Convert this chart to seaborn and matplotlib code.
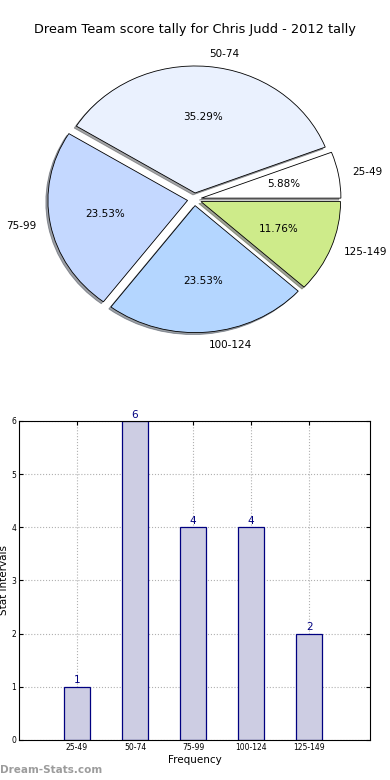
import matplotlib
matplotlib.use("Agg")
import matplotlib.pyplot as plt
import seaborn as sns
import pandas as pd

# score bands and how many games fell in each
bands = ['25-49', '50-74', '75-99', '100-124', '125-149']
counts = [1, 6, 4, 4, 2]
pie_colors = ['#ffffff', '#eaf1fe', '#c4d8ff', '#b4d6ff', '#ceeb8a']
title = 'Dream Team score tally for Chris Judd - 2012 tally'

sns.set_style("white")
plt.rcParams['font.family'] = ['DejaVu Sans']
plt.rcParams.update({'text.color': 'black', 'axes.labelcolor': 'black',
                     'xtick.color': 'black', 'ytick.color': 'black'})

fig = plt.figure(figsize=(3.9, 7.8), dpi=100)

# --- Pie ---
ax_pie = fig.add_axes([0.051, 0.541, 0.895, 0.407])
ax_pie.pie(counts, labels=bands, colors=pie_colors, autopct='%.2f%%',
           explode=[0.05] * len(counts),
           shadow={'ox': -0.011, 'oy': -0.011, 'shade': 0.7}, startangle=0,
           wedgeprops=dict(edgecolor='black', linewidth=0.6),
           textprops=dict(fontsize=7.5, color='black'))
ax_pie.set_aspect('auto')
ax_pie.set_xlim(-1.25, 1.25)
ax_pie.set_ylim(-1.25, 1.25)
ax_pie.axis('off')
fig.text(0.5, 1 - 30 / 780, title, ha='center', va='center', fontsize=9.3)

# --- Bars ---
df = pd.DataFrame({'band': bands, 'count': counts})
ax_bar = fig.add_axes([0.0487, 0.0513, 0.9, 0.409])
sns.barplot(data=df, x='band', y='count', color='#cdcde3', saturation=1,
            width=0.45, edgecolor='#000080', linewidth=0.9, ax=ax_bar)
ax_bar.bar_label(ax_bar.containers[0], color='#000080', fontsize=7.5, padding=1)
ax_bar.set_xlim(-1, 5.05)
ax_bar.set_ylim(0, 6)
ax_bar.set_yticks(range(0, 7))
ax_bar.grid(True, linestyle=':', color='#b0b0b0', linewidth=0.8)
ax_bar.set_axisbelow(True)
ax_bar.tick_params(labelsize=5.5, direction='in', length=3, top=True, right=True,
                   bottom=True, left=True, pad=2)
for s in ax_bar.spines.values():
    s.set_visible(True)
    s.set_color('black')
    s.set_linewidth(0.8)
ax_bar.set_xlabel('Frequency', fontsize=7.5, labelpad=2)
ax_bar.set_ylabel('Stat Intervals', fontsize=7.5, labelpad=2)

fig.text(0.0, 1 - 770 / 780, 'Dream-Stats.com', ha='left', va='center',
         fontsize=7.5, fontweight='bold', color='#9c9c9c')

fig.savefig('out.png', dpi=100)
